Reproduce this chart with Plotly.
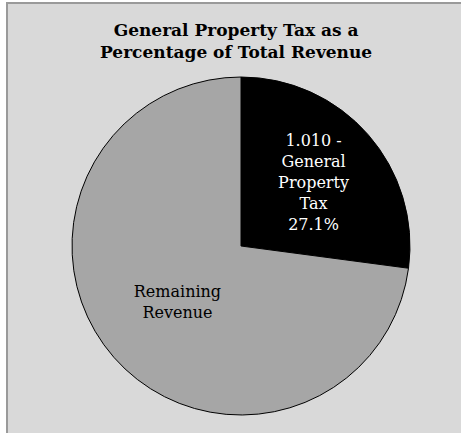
import plotly.graph_objects as go

# Revenue split
labels = ["1.010 - General Property Tax", "Remaining Revenue"]
label_lines = [["1.010 -", "General", "Property", "Tax"], ["Remaining", "Revenue"]]
values = [27.1, 72.9]
show_pct = [True, False]
title_lines = ["General Property Tax as a", "Percentage of Total Revenue"]

W, H = 461, 433

total = sum(values)
texts = []
for lines, v, sp in zip(label_lines, values, show_pct):
    t = "<br>".join(lines)
    if sp:
        t += f"<br>{v / total * 100:.1f}%"
    texts.append(t)

# pie placement in pixels
cx, cy, r = 241, 246, 169

fig = go.Figure(
    go.Pie(
        labels=labels,
        values=values,
        text=texts,
        textinfo="text",
        textposition="inside",
        insidetextorientation="horizontal",
        sort=False,
        direction="clockwise",
        rotation=0,
        marker=dict(colors=["#000000", "#a6a6a6"], line=dict(color="#000000", width=1)),
        insidetextfont=dict(color=["#ffffff", "#000000"], size=16, family="DejaVu Serif"),
        hoverinfo="label+percent",
        showlegend=False,
        domain=dict(
            x=[(cx - r) / W, (cx + r) / W],
            y=[(H - (cy + r)) / H, (H - (cy - r)) / H],
        ),
    )
)

fig.update_layout(
    width=W,
    height=H,
    margin=dict(l=0, r=0, t=0, b=0),
    paper_bgcolor="#ffffff",
    plot_bgcolor="#ffffff",
    shapes=[
        dict(
            type="rect",
            xref="paper",
            yref="paper",
            x0=7 / W,
            x1=1.05,
            y0=-0.05,
            y1=1 - 3 / H,
            fillcolor="#d9d9d9",
            line=dict(color="#9a9a9a", width=2),
            layer="below",
        )
    ],
    annotations=[
        dict(
            text="<b>" + "<br>".join(title_lines) + "</b>",
            xref="paper",
            yref="paper",
            x=236 / W,
            y=1 - 41 / H,
            xanchor="center",
            yanchor="middle",
            showarrow=False,
            font=dict(family="DejaVu Serif", size=17, color="#000000"),
        )
    ],
)

fig.write_html("out.html")
